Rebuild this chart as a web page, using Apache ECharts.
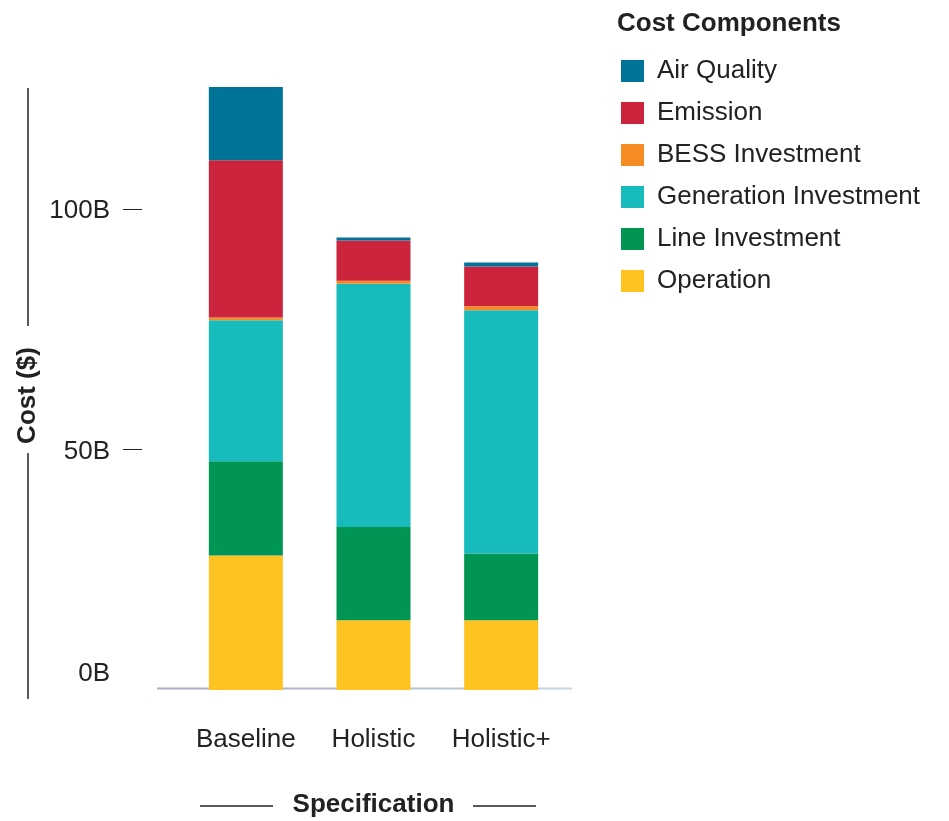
<!DOCTYPE html>
<html>
<head>
<meta charset="utf-8">
<script src="https://cdn.jsdelivr.net/npm/echarts@6/dist/echarts.min.js"></script>
<style>
  html, body { margin: 0; padding: 0; background: #fff; }
  #main { width: 949px; height: 821px; }
</style>
</head>
<body>
<div id="main"></div>
<script>
// data (billions of $)
var categories = ['Baseline', 'Holistic', 'Holistic+'];
var operation = [28.0, 14.5, 14.5];
var lineInvestment = [19.6, 19.4, 13.9];
var generationInvestment = [29.3, 50.6, 50.6];
var bessInvestment = [0.6, 0.6, 0.8];
var emission = [32.7, 8.4, 8.3];
var airQuality = [15.2, 0.6, 0.8];
var yLabelValues = [0, 50, 100];
var yTickValues = [50, 100];
var legendOrder = ['Air Quality', 'Emission', 'BESS Investment', 'Generation Investment', 'Line Investment', 'Operation'];

var font = '"Liberation Sans", Arial, Helvetica, sans-serif';
var ink = '#222222';

var myChart = echarts.init(document.getElementById('main'));

function bar(name, data, color) {
  return {
    name: name,
    type: 'bar',
    stack: 'cost',
    barWidth: 74,
    data: data,
    itemStyle: { color: color },
    emphasis: { disabled: true }
  };
}

var option = {
  animation: false,
  title: {
    text: 'Cost Components',
    left: 617,
    top: 11,
    padding: 0,
    textStyle: { fontFamily: font, fontSize: 26, fontWeight: 'bold', color: ink }
  },
  legend: {
    orient: 'vertical',
    left: 621,
    top: 58,
    padding: 0,
    icon: 'rect',
    itemWidth: 23,
    itemHeight: 22,
    itemGap: 16,
    data: legendOrder,
    textStyle: { fontFamily: font, fontSize: 26, color: ink, padding: [0, 0, 0, 8] }
  },
  // keep the grid exactly where it is set (no auto shrinking for labels)
  grid: { left: 182, width: 383, top: 65, bottom: 131, containLabel: false, outerBoundsMode: 'none' },
  xAxis: {
    type: 'category',
    data: categories,
    axisLine: { show: false },
    axisTick: { show: false },
    axisLabel: { interval: 0, hideOverlap: false, margin: 37, fontFamily: font, fontSize: 26, color: ink },
    name: 'Specification',
    nameLocation: 'middle',
    nameGap: 102,
    nameTextStyle: { fontFamily: font, fontSize: 26, fontWeight: 'bold', color: ink }
  },
  yAxis: {
    type: 'value',
    min: 0,
    max: 130,
    offset: 40,
    splitLine: { show: false },
    axisLine: { show: false },
    axisTick: { show: true, length: 19, customValues: yTickValues, lineStyle: { color: ink } },
    axisLabel: {
      customValues: yLabelValues,
      margin: 32,
      fontFamily: font,
      fontSize: 26,
      color: ink,
      padding: [4, 0, 0, 0],
      formatter: function (v) { return v === 0 ? '{z|0B}' : v + 'B'; },
      rich: { z: { fontFamily: font, fontSize: 26, color: ink, padding: [0, 0, 37, 0] } }
    },
    name: 'Cost ($)',
    nameLocation: 'middle',
    nameRotate: 90,
    nameGap: 101,
    nameTextStyle: { fontFamily: font, fontSize: 26, fontWeight: 'bold', color: ink, padding: [0, 36, 0, 0] }
  },
  // decorative axis lines
  graphic: [
    { type: 'line', z: 1, shape: { x1: 28, y1: 88, x2: 28, y2: 326 }, style: { stroke: ink, lineWidth: 1.5 } },
    { type: 'line', z: 1, shape: { x1: 28, y1: 453, x2: 28, y2: 699 }, style: { stroke: ink, lineWidth: 1.5 } },
    { type: 'line', z: 1, shape: { x1: 157, y1: 688.5, x2: 572, y2: 688.5 },
      style: { lineWidth: 2, stroke: new echarts.graphic.LinearGradient(0, 0, 1, 0, [
        { offset: 0, color: '#a8b1c2' }, { offset: 0.45, color: '#aeb8c8' }, { offset: 1, color: '#c9d6e0' }
      ]) } },
    { type: 'line', z: 1, shape: { x1: 200, y1: 806, x2: 273, y2: 806 }, style: { stroke: ink, lineWidth: 1.5 } },
    { type: 'line', z: 1, shape: { x1: 473, y1: 806, x2: 536, y2: 806 }, style: { stroke: ink, lineWidth: 1.5 } }
  ],
  series: [
    bar('Operation', operation, '#FEC221'),
    bar('Line Investment', lineInvestment, '#009553'),
    bar('Generation Investment', generationInvestment, '#17BBBC'),
    bar('BESS Investment', bessInvestment, '#F68B24'),
    bar('Emission', emission, '#CC243C'),
    bar('Air Quality', airQuality, '#007398')
  ]
};

myChart.setOption(option);
</script>
</body>
</html>
